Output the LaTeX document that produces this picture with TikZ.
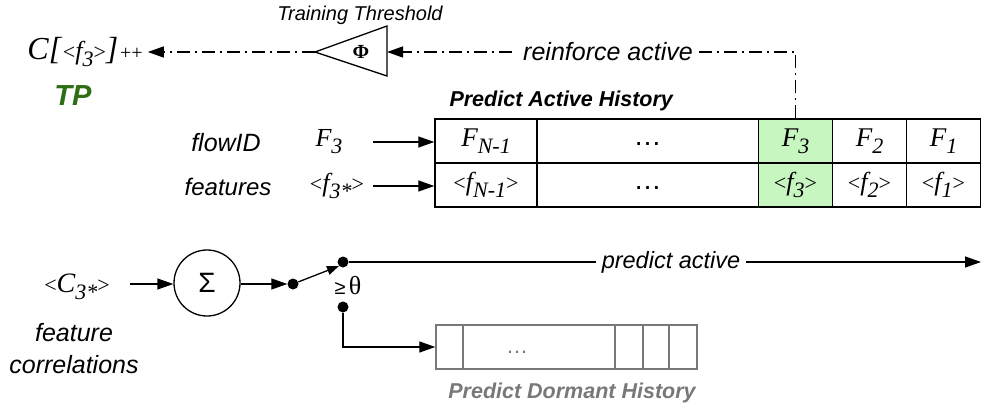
\documentclass[tikz,border=0pt]{standalone}
\usepackage{fontspec}
\setmainfont{Liberation Sans}
\newfontfamily\tms{Liberation Serif}
\usetikzlibrary{arrows.meta}
\definecolor{hl}{RGB}{200,246,192}
\definecolor{tpg}{RGB}{46,110,20}
\definecolor{dg}{RGB}{120,120,120}
\newcommand\mt{\fontsize{26}{28}\selectfont\tms\itshape}
\newcommand\mtb{\fontsize{27}{29}\selectfont\tms\itshape}
\newcommand\lowsub[1]{\raisebox{-7pt}{\fontsize{22}{22}\selectfont #1}}
\newcommand\angl{{\fontsize{22}{22}\selectfont\upshape <}}
\newcommand\angr{{\fontsize{22}{22}\selectfont\upshape >}}
\tikzset{
  lbl/.style={font=\fontsize{25}{28}\selectfont\itshape, inner sep=1pt},
  cell/.style={draw, line width=1.4pt, minimum height=44pt, inner sep=0pt},
  gcell/.style={draw=dg, line width=1.4pt, minimum height=44pt, inner sep=0pt},
  arr/.style={line width=1.3pt, -{Triangle[length=16pt,width=11pt]}},
  dd/.style={line width=1.3pt, dash pattern=on 13pt off 5pt on 2pt off 5pt},
  dot/.style={circle, fill=black, inner sep=0pt, minimum size=11pt},
}
\begin{document}
\begin{tikzpicture}[x=1pt,y=-1pt]
\useasboundingbox (0,0) rectangle (984,409);
% top left
\node[inner sep=1pt, inner xsep=5pt] (ctext) at (85,52) {{\fontsize{32}{34}\selectfont\tms\itshape C[}\,{\tms\angl}{\mt f\lowsub{3}}{\tms\angr}{\fontsize{32}{34}\selectfont\tms\itshape ]}\,{\fontsize{20}{20}\selectfont\tms ++}};
\node[font=\fontsize{29}{31}\selectfont\bfseries\itshape, text=tpg] (tp) at (73,96) {TP};
\node[font=\fontsize{20}{22}\selectfont\itshape] (tt) at (360,15) {Training Threshold};
\coordinate (trL) at (315,52);
\coordinate (trR) at (387,52);
\draw[line width=1.3pt, line join=miter] (315,52) -- (387,26) -- (387,76) -- cycle;
\node (phi) at (361,52) {\fontsize{20}{20}\selectfont\tms\bfseries Φ};
\draw[dd, arr] (trL) -- (ctext.east);
% table
\node[cell, minimum width=102pt] (a1) at (486,141) {\mtb F\lowsub{N-1}};
\node[cell, minimum width=222pt] (b1) at (647.5,141) {\fontsize{28}{28}\selectfont\raisebox{-9pt}{…}};
\node[cell, minimum width=74pt, fill=hl] (g1) at (795.5,141) {\mtb F\lowsub{3}};
\node[cell, minimum width=74pt] (h1) at (869.5,141) {\mtb F\lowsub{2}};
\node[cell, minimum width=74pt] (i1) at (943.5,141) {\mtb F\lowsub{1}};
\node[cell, minimum width=102pt] (a2) at (486,185) {\tms\angl{\mt f\lowsub{N-1}}\angr};
\node[cell, minimum width=222pt] (b2) at (647.5,185) {\fontsize{28}{28}\selectfont\raisebox{-9pt}{…}};
\node[cell, minimum width=74pt, fill=hl] (g2) at (795.5,185) {\tms\angl{\mt f\lowsub{3}}\angr};
\node[cell, minimum width=74pt] (h2) at (869.5,185) {\tms\angl{\mt f\lowsub{2}}\angr};
\node[cell, minimum width=74pt] (i2) at (943.5,185) {\tms\angl{\mt f\lowsub{1}}\angr};
\node[font=\fontsize{21.5}{23}\selectfont\bfseries\itshape, anchor=west] (pah) at (446,101) {Predict Active History};
% reinforce
\draw[dd, arr] (g1.north) |- (trR);
\node[lbl, fill=white, inner xsep=6pt] (ra) at (608,52) {reinforce active};
% inputs
\node[lbl] (fid) at (226,143) {flowID};
\node[inner sep=1pt] (f3) at (329,142) {\mt F\lowsub{3}};
\node[lbl, font=\fontsize{24}{26}\selectfont\itshape] (feat) at (228,187) {features};
\node[inner sep=1pt] (f3s) at (337,186) {\tms\angl{\mt f\lowsub{3*}}\angr};
\coordinate (in1) at (373,142);
\coordinate (in2) at (373,186);
\draw[arr] (in1) -- (in1 -| a1.west);
\draw[arr] (in2) -- (in2 -| a2.west);
% bottom
\node[inner sep=1pt] (c3) at (77,287) {\tms\angl{\fontsize{28}{30}\selectfont\tms\itshape C\lowsub{3*}}\angr};
\node[lbl, align=center, font=\fontsize{25}{32}\selectfont\itshape] (fc) at (74,349) {feature\\correlations};
\node[draw, circle, line width=1.3pt, minimum size=66pt, inner sep=0pt] (sum) at (207,283) {\fontsize{28}{28}\selectfont Σ};
\coordinate (c3r) at (130,284);
\draw[arr] (c3r) -- (c3r -| sum.west);
\node[dot] (d0) at (293,284) {};
\node[dot] (d1) at (343,262) {};
\node[dot] (d2) at (343,307) {};
\draw[arr] (sum.east |- d0) -- (d0.west);
\draw[line width=1.3pt, -{Triangle[length=12pt,width=9pt]}] (d0) -- (d1.south west);
\node[inner sep=1pt] (th) at (348,286) {\fontsize{20}{22}\selectfont ≥\,\fontsize{26}{28}\selectfont\tms θ};
\coordinate (pend) at (981,262);
\draw[arr] (d1) -- (pend);
\node[lbl, font=\fontsize{23.5}{26}\selectfont\itshape, fill=white, inner xsep=6pt] (pa) at (671,262) {predict active};
% dormant
\node[gcell, minimum width=27pt] (k1) at (449.5,347) {};
\node[gcell, minimum width=152pt] (k2) at (539,347) {};
\node[text=dg, inner sep=0pt] (kd) at (517,351) {\fontsize{22}{22}\selectfont\raisebox{-4pt}{…}};
\node[gcell, minimum width=28pt] (k3) at (629,347) {};
\node[gcell, minimum width=26pt] (k4) at (656,347) {};
\node[gcell, minimum width=28pt] (k5) at (683,347) {};
\draw[arr] (d2) |- (k1.west);
\node[font=\fontsize{21.5}{23}\selectfont\bfseries\itshape, text=dg] (pdh) at (572,393) {Predict Dormant History};
\end{tikzpicture}
\end{document}
